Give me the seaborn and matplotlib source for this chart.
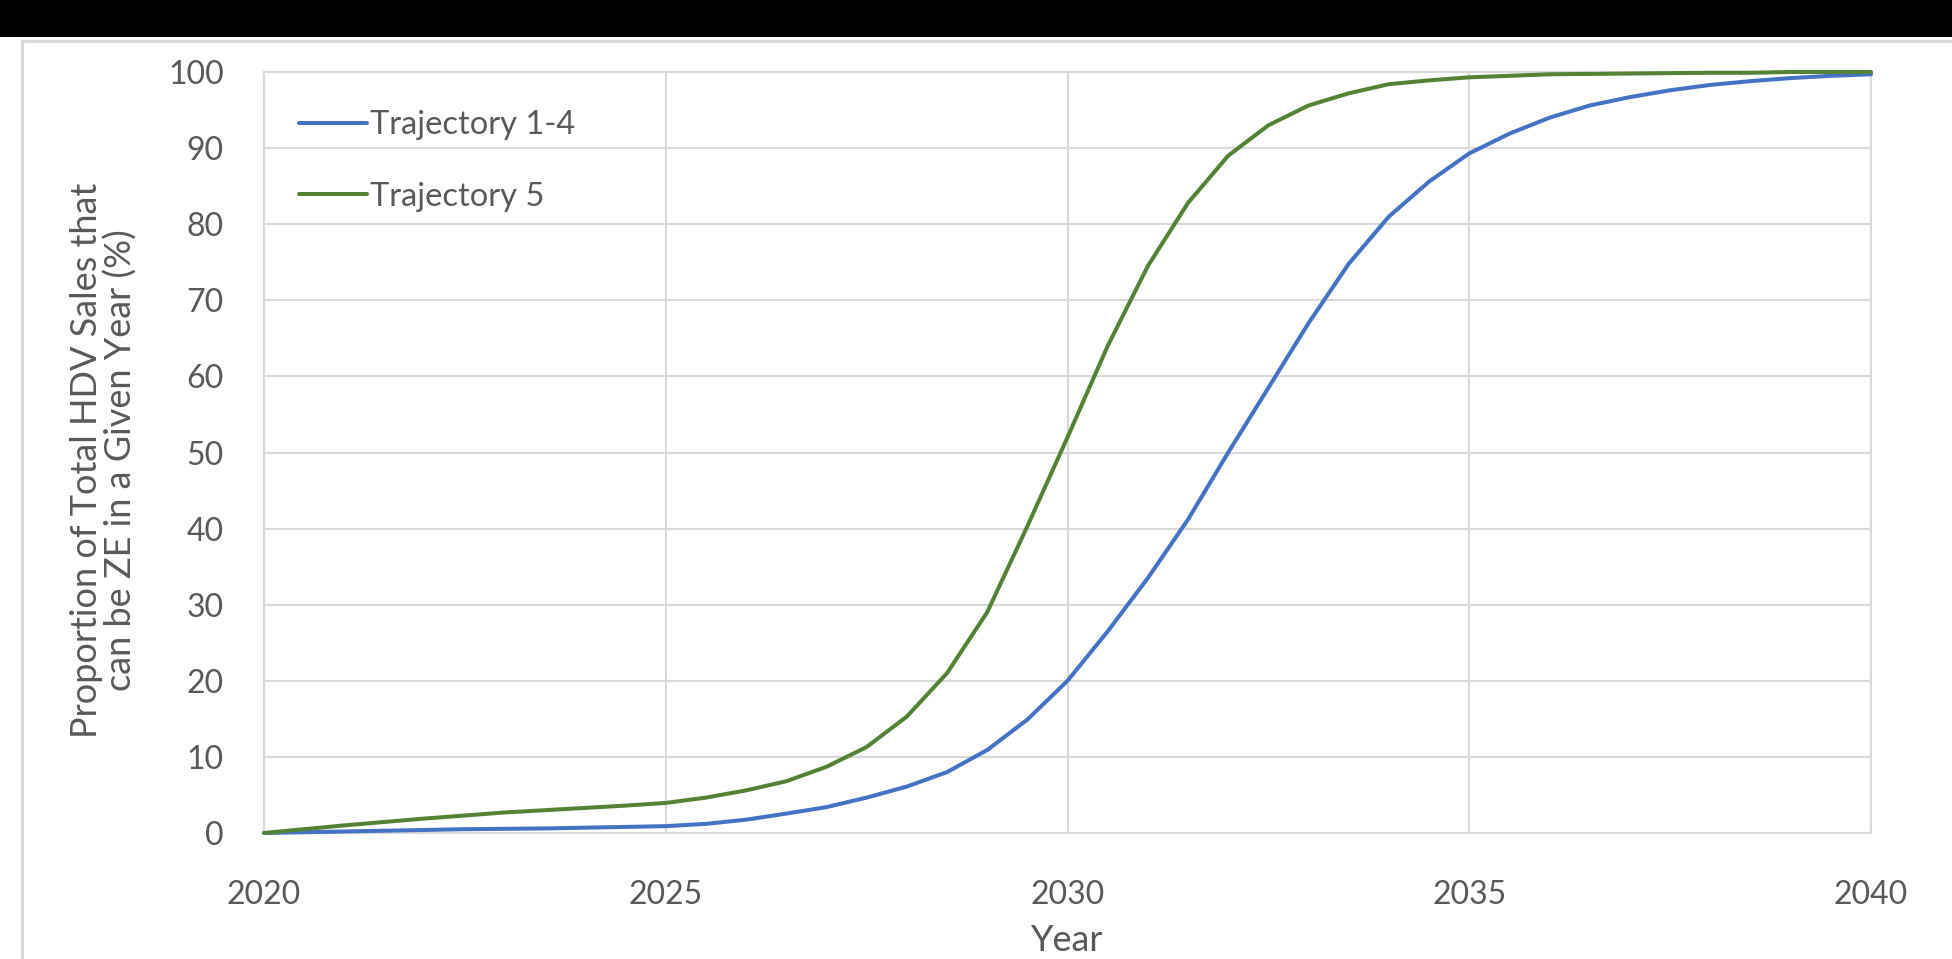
import matplotlib
matplotlib.use("Agg")
import matplotlib.pyplot as plt
from matplotlib.patches import Rectangle
from matplotlib.lines import Line2D
import pandas as pd
import seaborn as sns

# Share of heavy-duty vehicle sales that can be zero-emission (half-year steps)
years = [2020 + 0.5 * i for i in range(41)]
trajectory_1_4 = [0.0, 0.1, 0.2, 0.3, 0.4, 0.5, 0.55, 0.6, 0.7, 0.8,
                  0.9, 1.2, 1.75, 2.55, 3.4, 4.65, 6.1, 8.0, 10.9, 14.9,
                  20.0, 26.5, 33.5, 41.2, 50.0, 58.5, 67.0, 74.8, 81.0, 85.6,
                  89.3, 91.9, 94.0, 95.6, 96.7, 97.6, 98.3, 98.8, 99.2, 99.5,
                  99.7]
trajectory_5 = [0.0, 0.5, 1.0, 1.45, 1.9, 2.3, 2.7, 3.0, 3.3, 3.6,
                3.95, 4.65, 5.6, 6.8, 8.7, 11.3, 15.3, 21.0, 29.0, 40.3,
                52.0, 64.0, 74.5, 82.8, 89.0, 93.0, 95.6, 97.2, 98.4, 98.9,
                99.3, 99.5, 99.7, 99.75, 99.8, 99.85, 99.9, 99.9, 100.0, 100.0,
                100.0]
series_names = ["Trajectory 1-4", "Trajectory 5"]
x_ticks = [2020, 2025, 2030, 2035, 2040]
y_ticks = list(range(0, 101, 10))

df = pd.concat([
    pd.DataFrame({"Year": years, "Share": trajectory_1_4, "Series": series_names[0]}),
    pd.DataFrame({"Year": years, "Share": trajectory_5, "Series": series_names[1]}),
])

sns.set_theme(style="white")
plt.rcParams["font.family"] = ["Lato", "DejaVu Sans"]

TEXT = "#595959"
GRID = "#d9d9d9"
colors = ["#4472C4", "#548235"]

W, H = 1952, 959
fig = plt.figure(figsize=(W / 100, H / 100), dpi=100, facecolor="white")

# dark strip across the top and the light chart-area frame
fig.patches.append(Rectangle((0, 1 - 37 / H), 1, 37 / H, transform=fig.transFigure,
                             facecolor="black", edgecolor="none", zorder=0))
fig.add_artist(Line2D([22 / W, 1], [1 - 41 / H, 1 - 41 / H], transform=fig.transFigure,
                      color=GRID, linewidth=2.2))
fig.add_artist(Line2D([22 / W, 22 / W], [0, 1 - 41 / H], transform=fig.transFigure,
                      color=GRID, linewidth=2.2))

ax = fig.add_axes([264 / W, 1 - 833 / H, (1871 - 264) / W, (833 - 72) / H])

sns.lineplot(data=df, x="Year", y="Share", hue="Series", palette=colors,
             linewidth=2.9, ax=ax, legend=False, clip_on=False, zorder=3)
for ln in ax.get_lines():
    ln.set_solid_capstyle("round")
    ln.set_solid_joinstyle("round")

ax.set_xlim(2020, 2040)
ax.set_ylim(0, 100)
ax.set_xticks(x_ticks)
ax.set_yticks(y_ticks)
ax.grid(True, color=GRID, linewidth=1.5)
for s in ax.spines.values():
    s.set_color(GRID)
    s.set_linewidth(1.5)
ax.tick_params(axis="both", length=0, labelsize=23, labelcolor=TEXT)
ax.tick_params(axis="x", pad=34)
ax.tick_params(axis="y", pad=29)

ax.set_xlabel("Year", fontsize=26, color=TEXT)
ax.xaxis.set_label_coords(0.5, -0.1419)
ax.xaxis.label.set_va("center")
ax.set_ylabel("Proportion of Total HDV Sales that\ncan be ZE in a Given Year (%)",
              fontsize=26, color=TEXT, linespacing=1.04)
ax.yaxis.label.set_va("center")
ax.yaxis.set_label_coords(-0.0996, 0.49)

handles = [Line2D([], [], color=c, linewidth=2.9) for c in colors]
ax.legend(handles, series_names, loc="upper left", bbox_to_anchor=(0.0218, 0.950),
          frameon=False, fontsize=23.5, handlelength=2.08, handletextpad=0.1,
          labelspacing=1.28, borderpad=0, borderaxespad=0, labelcolor=TEXT)

fig.savefig("out.png", dpi=100, facecolor="white")
